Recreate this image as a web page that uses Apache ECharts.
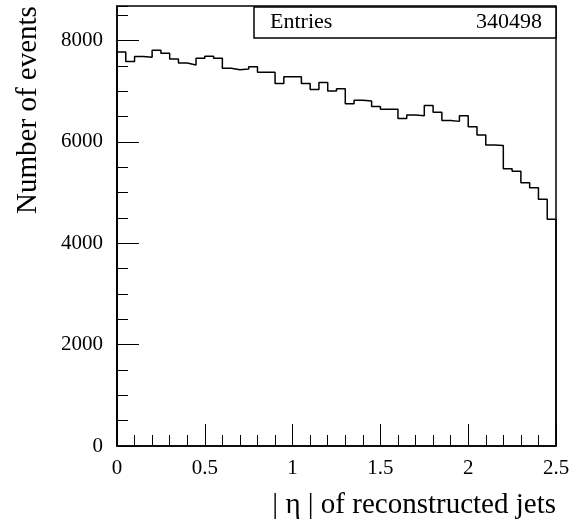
<!DOCTYPE html>
<html><head><meta charset="utf-8">
<script src="https://cdn.jsdelivr.net/npm/echarts@6/dist/echarts.min.js"></script>
<style>html,body{margin:0;padding:0;background:#fff}#c{width:582px;height:523px}</style>
</head><body><div id="c"></div>
<script>
// ---- data ----
const binWidth = 0.05;
const xMin = 0, xMax = 2.5;
const counts = [
  7771, 7585, 7682, 7668, 7806, 7747, 7635, 7554, 7516, 7648,
  7688, 7648, 7451, 7421, 7437, 7480, 7372, 7372, 7151, 7283,
  7283, 7149, 7032, 7170, 7002, 7050, 6750, 6819, 6805, 6696,
  6645, 6645, 6459, 6532, 6517, 6716, 6582, 6420, 6404, 6517,
  6299, 6137, 5936, 5930, 5470, 5422, 5195, 5094, 4869, 4474
];
const yMax = 8680;
const xTickStep = 0.5;
const yTickStep = 2000;
const yMinorStep = 500;
const statsLabel = 'Entries';
const statsValue = '340498';
const xTitle = '| η | of reconstructed jets';
const yTitle = 'Number of events';

// step outline of the histogram
const stepData = [[xMin, 0]];
counts.forEach((c, i) => stepData.push([+(xMin + i * binWidth).toFixed(2), c]));
stepData.push([xMax, counts[counts.length - 1]]);
stepData.push([xMax, 0]);

const FONT = 'Liberation Serif';
const chart = echarts.init(document.getElementById('c'), null, {renderer: 'canvas'});
chart.setOption({
  animation: false,
  backgroundColor: '#fff',
  grid: {left: 117, right: 26, top: 6, bottom: 77, show: true, borderColor: '#000', borderWidth: 1.5, backgroundColor: 'transparent'},
  xAxis: {
    type: 'value', min: xMin, max: xMax, interval: xTickStep,
    axisLine: {show: true, lineStyle: {color: '#000', width: 1.5}},
    axisTick: {show: true, inside: true, length: 22, lineStyle: {color: '#000', width: 1}},
    minorTick: {show: true, splitNumber: 5, length: 11, lineStyle: {color: '#000', width: 1}},
    splitLine: {show: false}, minorSplitLine: {show: false},
    axisLabel: {color: '#000', fontFamily: FONT, fontSize: 21, margin: 12, formatter: v => String(v)}
  },
  yAxis: [{
    type: 'value', min: 0, max: yMax, interval: yTickStep,
    axisLine: {show: true, lineStyle: {color: '#000', width: 1.5}},
    axisTick: {show: true, inside: true, length: 22, lineStyle: {color: '#000', width: 1}},
    splitLine: {show: false},
    axisLabel: {color: '#000', fontFamily: FONT, fontSize: 21, margin: 14, showMaxLabel: false, formatter: v => String(v)}
  }, {
    type: 'value', min: 0, max: yMax, interval: yMinorStep, position: 'left', offset: 0,
    axisLine: {show: false},
    axisTick: {show: true, inside: true, length: 11, lineStyle: {color: '#000', width: 1}},
    splitLine: {show: false},
    axisLabel: {show: false}
  }],
  series: [{
    type: 'line', step: 'end', data: stepData, yAxisIndex: 0,
    showSymbol: false, symbol: 'none',
    lineStyle: {color: '#000', width: 1.5}
  }],
  graphic: [
    {type: 'rect', shape: {x: 254, y: 7, width: 302, height: 31}, style: {fill: '#fff', stroke: '#000', lineWidth: 1.5}, z: 100},
    {type: 'text', x: 270, y: 22, style: {text: statsLabel, font: '22px "' + FONT + '"', fill: '#000', textAlign: 'left', textVerticalAlign: 'middle'}, z: 101},
    {type: 'text', x: 542, y: 22, style: {text: statsValue, font: '22px "' + FONT + '"', fill: '#000', textAlign: 'right', textVerticalAlign: 'middle'}, z: 101},
    {type: 'text', x: 556, y: 505, style: {text: xTitle, font: '29px "' + FONT + '"', fill: '#000', textAlign: 'right', textVerticalAlign: 'middle'}},
    {type: 'text', x: 28, y: 110, rotation: Math.PI / 2, style: {text: yTitle, font: '29px "' + FONT + '"', fill: '#000', textAlign: 'center', textVerticalAlign: 'middle'}}
  ]
});
</script></body></html>
